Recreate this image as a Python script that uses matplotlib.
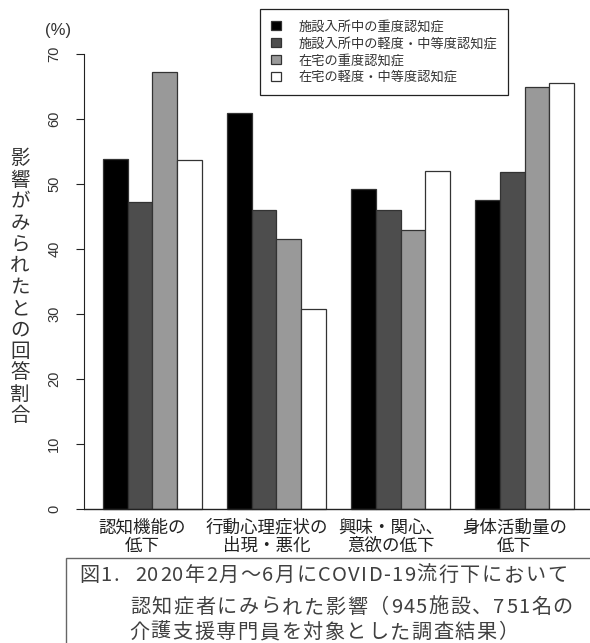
import numpy as np
import matplotlib.pyplot as plt
from matplotlib.patches import Patch, Rectangle

plt.rcParams['font.family'] = ['Noto Sans CJK JP', 'DejaVu Sans']

categories = [['認知機能の', '低下'], ['行動心理症状の', '出現・悪化'],
              ['興味・関心、', '意欲の低下'], ['身体活動量の', '低下']]
series_names = ['施設入所中の重度認知症', '施設入所中の軽度・中等度認知症',
                '在宅の重度認知症', '在宅の軽度・中等度認知症']
# one value per category, in the order of categories
facility_severe = [53.8, 60.9, 49.3, 47.6]
facility_mild = [47.3, 46.0, 46.0, 51.8]
home_severe = [67.3, 41.5, 43.0, 65.0]
home_mild = [53.7, 30.8, 52.0, 65.6]
series = [facility_severe, facility_mild, home_severe, home_mild]
colors = ['#000000', '#4d4d4d', '#999999', '#ffffff']
yticks = [0, 10, 20, 30, 40, 50, 60, 70]
ylabel = '影響がみられたとの回答割合'
caption = ['図1.', '2020年2月～6月にCOVID-19流行下において',
           '認知症者にみられた影響（945施設、751名の',
           '介護支援専門員を対象とした調査結果）']

W, H = 590, 643
fig = plt.figure(figsize=(W / 100, H / 100), dpi=100)
renderer = fig.canvas.get_renderer()

def fx(px):
    return px / W

def fy(py):
    return 1 - py / H

def advance(ch, size):
    t1 = fig.text(0, 0, ch, fontsize=size)
    t2 = fig.text(0, 0, ch + ch, fontsize=size)
    w = t2.get_window_extent(renderer).width - t1.get_window_extent(renderer).width
    t1.remove()
    t2.remove()
    return w

def spaced_text(x, y, s, size, cjk_gap, latin_gap, color):
    # caption font in the reference has a little extra letter spacing
    for ch in s:
        fig.text(fx(x), fy(y), ch, ha='left', va='baseline', fontsize=size, color=color)
        x += advance(ch, size) + (cjk_gap if ord(ch) > 0x2000 else latin_gap)

ax = fig.add_axes([fx(84), fy(527.2), fx(593 - 84), (527.2 - 35.8) / H])
ax.set_xlim(0.24, 20.76)
ax.set_ylim(-2.8, 72.8)

for i, vals in enumerate(series):
    lefts = [1 + 5 * g + i for g in range(len(vals))]
    ax.bar(lefts, vals, width=1, align='edge', color=colors[i],
           edgecolor='#333333', linewidth=0.9)

ax.axhline(0, color='#222222', linewidth=1.0)
for s in ['top', 'right', 'bottom']:
    ax.spines[s].set_visible(False)
ax.spines['left'].set_bounds(0, 70)
ax.spines['left'].set_color('#222222')
ax.set_yticks(yticks)
ax.set_yticklabels([str(t) for t in yticks], rotation=90, va='center',
                   family='Liberation Sans', fontsize=10.5, color='#333333')
ax.tick_params(axis='y', length=5.8, pad=10.5, color='#222222')
ax.set_xticks([])

for g, lab in enumerate(categories):
    ax.text(3 + 5 * g - 0.4, -4.3, '\n'.join(lab), ha='center', va='center',
            fontsize=12.6, color='#222222', linespacing=1.0, clip_on=False)

fig.text(fx(58), fy(31), '(%)', ha='center', va='center', fontsize=12,
         color='#333333', family='Liberation Sans')

# vertical y label, one character per line
for k, ch in enumerate(ylabel):
    fig.text(fx(20), fy(159 + 21.4 * k), ch, ha='center', va='center',
             fontsize=14, color='#333333')

handles = [Patch(facecolor=c, edgecolor='#333333', linewidth=0.9) for c in colors]
leg = fig.legend(handles, series_names, loc='upper left',
                 bbox_to_anchor=(fx(260), fy(9)), borderaxespad=0,
                 fontsize=9.5, handlelength=0.75, handleheight=0.75,
                 handletextpad=1.3, labelspacing=0.3, borderpad=0.85,
                 fancybox=False, framealpha=1, edgecolor='#222222')
leg.get_frame().set_linewidth(0.9)
for t in leg.get_texts():
    t.set_color('#333333')

fig.patches.append(Rectangle((fx(66), fy(660)), fx(600 - 66), (660 - 558) / H,
                             transform=fig.transFigure, facecolor='none',
                             edgecolor='#666666', linewidth=1.0))
cap_color = '#404040'
spaced_text(79, 581, caption[0], 14.5, 1.6, 1.3, cap_color)
spaced_text(135, 581, caption[1], 14.5, 1.6, 1.3, cap_color)
spaced_text(130, 613, caption[2], 14.5, 1.6, 1.3, cap_color)
spaced_text(129, 638, caption[3], 14.5, 1.6, 1.3, cap_color)

fig.savefig('out.png', dpi=100)
